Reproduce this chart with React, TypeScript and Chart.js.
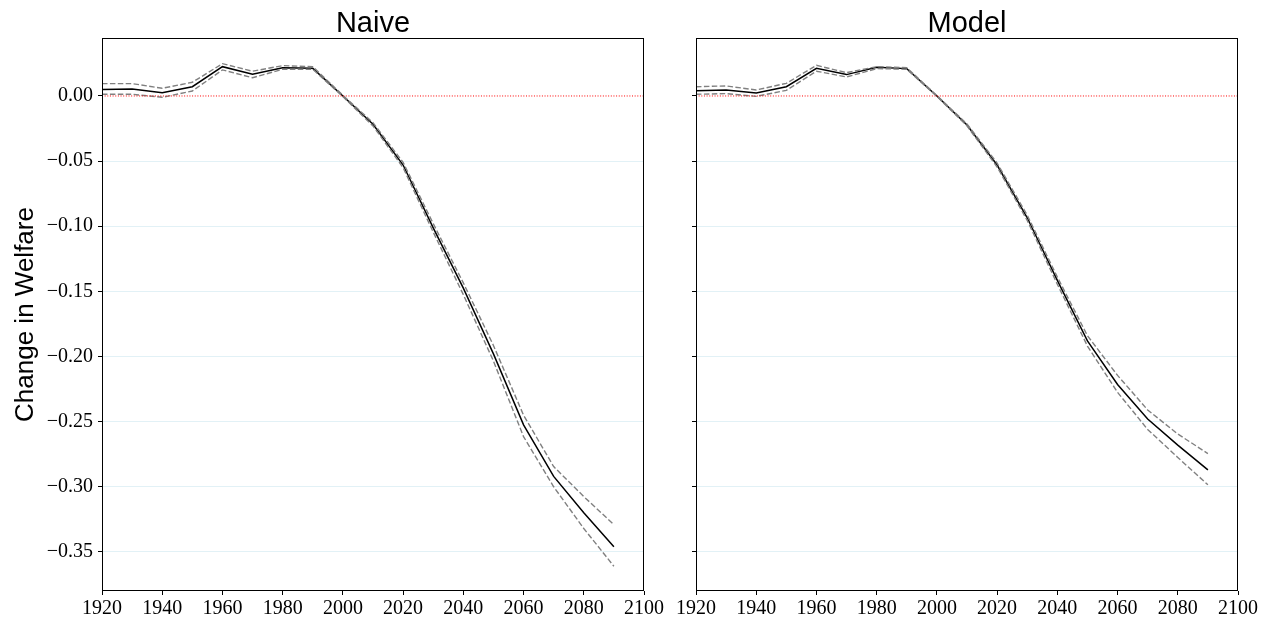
import React, { useEffect, useRef } from "react";
import { Chart, registerables } from "chart.js";

Chart.register(...registerables);

const years = [1920, 1930, 1940, 1950, 1960, 1970, 1980, 1990, 2000, 2010, 2020, 2030, 2040, 2050, 2060, 2070, 2080, 2090];

const naiveMean = [0.005, 0.0054, 0.0025, 0.0071, 0.0225, 0.0166, 0.0217, 0.0212, 0.0, -0.0217, -0.053, -0.1012, -0.1475, -0.198, -0.2525, -0.292, -0.32, -0.346];
const naiveUpper = [0.0095, 0.0095, 0.0059, 0.0105, 0.0248, 0.019, 0.0233, 0.0225, 0.0005, -0.0205, -0.051, -0.098, -0.1435, -0.1915, -0.245, -0.2845, -0.3075, -0.329];
const naiveLower = [0.0013, 0.0013, -0.001, 0.0038, 0.02, 0.014, 0.0205, 0.0205, -0.0005, -0.023, -0.055, -0.1045, -0.1525, -0.2035, -0.2615, -0.3, -0.332, -0.361];

const modelMean = [0.0041, 0.0046, 0.0023, 0.0071, 0.0212, 0.0164, 0.022, 0.021, 0.0, -0.0223, -0.053, -0.0935, -0.1415, -0.188, -0.2215, -0.248, -0.268, -0.287];
const modelUpper = [0.0071, 0.0077, 0.0046, 0.0097, 0.0235, 0.0179, 0.0225, 0.0217, 0.0003, -0.0215, -0.0515, -0.0915, -0.139, -0.184, -0.2145, -0.241, -0.2595, -0.2745];
const modelLower = [0.0013, 0.0018, -0.0003, 0.0043, 0.019, 0.0146, 0.021, 0.0205, -0.0003, -0.023, -0.0545, -0.0955, -0.1445, -0.192, -0.2275, -0.256, -0.2775, -0.2985];

const xTicks = [1920, 1940, 1960, 1980, 2000, 2020, 2040, 2060, 2080, 2100];
const yTicks = [0, -0.05, -0.1, -0.15, -0.2, -0.25, -0.3, -0.35];
const zeroLineX = [1920, 2100];
const zeroLineY = [0, 0];

const panelTitles = ["Naive", "Model"];
const yAxisLabel = "Change in Welfare";

const xMin = 1920;
const xMax = 2100;
const yMin = -0.38;
const yMax = 0.0445;

const SERIF = '"Liberation Serif", "DejaVu Serif", serif';
const SANS = '"Liberation Sans", Arial, Helvetica, sans-serif';

function fmtY(v: number): string {
  const s = Math.abs(v).toFixed(2);
  return v < -1e-9 ? "\u2212" + s : s;
}

function pts(xs: number[], ys: number[]) {
  return xs.map((x, i) => ({ x, y: ys[i] }));
}

function makeDecor(title: string, showYLabel: boolean) {
  return {
    id: "decor",
    afterDraw(chart: any) {
      const { ctx, chartArea: a } = chart;
      ctx.save();
      ctx.strokeStyle = "#000";
      ctx.lineWidth = 1;
      const l = Math.round(a.left) + 0.5;
      const t = Math.round(a.top) + 0.5;
      const r = Math.round(a.right) - 0.5;
      const b = Math.round(a.bottom) - 0.5;
      ctx.strokeRect(l, t, r - l, b - t);
      ctx.fillStyle = "#000";
      ctx.font = `29px ${SANS}`;
      ctx.textAlign = "center";
      ctx.textBaseline = "alphabetic";
      ctx.fillText(title, (a.left + a.right) / 2, 32);
      if (showYLabel) {
        ctx.translate(33, (a.top + a.bottom) / 2);
        ctx.rotate(-Math.PI / 2);
        ctx.font = `26px ${SANS}`;
        ctx.fillText(yAxisLabel, 0, 0);
      }
      ctx.restore();
    },
  };
}

function Panel(props: {
  title: string;
  mean: number[];
  upper: number[];
  lower: number[];
  showYLabels: boolean;
  yAxisWidth: number;
  padRight: number;
  width: number;
  left: number;
}) {
  const ref = useRef<HTMLCanvasElement | null>(null);
  useEffect(() => {
    if (!ref.current) return;
    const chart = new Chart(ref.current, {
      type: "line",
      data: {
        datasets: [
          {
            data: pts(zeroLineX, zeroLineY),
            borderColor: "#ff0000",
            borderWidth: 1,
            borderDash: [1, 1.65],
            pointRadius: 0,
          },
          {
            data: pts(years, props.upper),
            borderColor: "#808080",
            borderWidth: 1.4,
            borderDash: [5.5, 2.4],
            pointRadius: 0,
          },
          {
            data: pts(years, props.lower),
            borderColor: "#808080",
            borderWidth: 1.4,
            borderDash: [5.5, 2.4],
            pointRadius: 0,
          },
          {
            data: pts(years, props.mean),
            borderColor: "#000000",
            borderWidth: 1.5,
            pointRadius: 0,
          },
        ],
      },
      options: {
        responsive: false,
        animation: false,
        devicePixelRatio: 1,
        layout: { padding: { left: 0, right: props.padRight, top: 38, bottom: 0 } },
        plugins: {
          legend: { display: false },
          tooltip: { enabled: false },
          title: { display: false },
        },
        elements: { line: { tension: 0 } },
        scales: {
          x: {
            type: "linear",
            min: xMin,
            max: xMax,
            afterBuildTicks: (s: any) => {
              s.ticks = xTicks.map((v) => ({ value: v }));
            },
            afterFit: (s: any) => {
              s.height = 33;
            },
            border: { display: false },
            grid: {
              drawOnChartArea: false,
              drawTicks: true,
              tickLength: 4,
              tickColor: "#000",
              tickWidth: 1,
            },
            ticks: {
              color: "#000",
              padding: 2,
              maxRotation: 0,
              autoSkip: false,
              font: { family: SERIF, size: 20 },
              callback: (v: any) => String(v),
            },
          },
          y: {
            type: "linear",
            min: yMin,
            max: yMax,
            afterBuildTicks: (s: any) => {
              s.ticks = yTicks.map((v) => ({ value: v }));
            },
            afterFit: (s: any) => {
              s.width = props.yAxisWidth;
            },
            border: { display: false },
            grid: {
              drawOnChartArea: true,
              drawTicks: true,
              tickLength: 4,
              tickColor: "#000",
              tickWidth: 1,
              lineWidth: 1,
              color: (c: any) =>
                c.tick && Math.abs(c.tick.value) < 1e-9 ? "rgba(0,0,0,0)" : "rgba(190,225,235,0.45)",
            },
            ticks: {
              display: props.showYLabels,
              color: "#000",
              padding: 5,
              autoSkip: false,
              font: { family: SERIF, size: 20 },
              callback: (v: any) => fmtY(Number(v)),
            },
          },
        },
      },
      plugins: [makeDecor(props.title, props.showYLabels)],
    } as any);
    return () => chart.destroy();
  }, []);
  return (
    <div style={{ position: "absolute", left: props.left, top: 0, width: props.width, height: 624 }}>
      <canvas ref={ref} width={props.width} height={624} style={{ display: "block" }} />
    </div>
  );
}

export default function App() {
  return (
    <div style={{ position: "absolute", left: 0, top: 0, width: 1270, height: 624, background: "#fff" }}>
      <Panel
        title={panelTitles[0]}
        mean={naiveMean}
        upper={naiveUpper}
        lower={naiveLower}
        showYLabels={true}
        yAxisWidth={102}
        padRight={36}
        width={680}
        left={0}
      />
      <Panel
        title={panelTitles[1]}
        mean={modelMean}
        upper={modelUpper}
        lower={modelLower}
        showYLabels={false}
        yAxisWidth={56}
        padRight={32}
        width={630}
        left={640}
      />
    </div>
  );
}
